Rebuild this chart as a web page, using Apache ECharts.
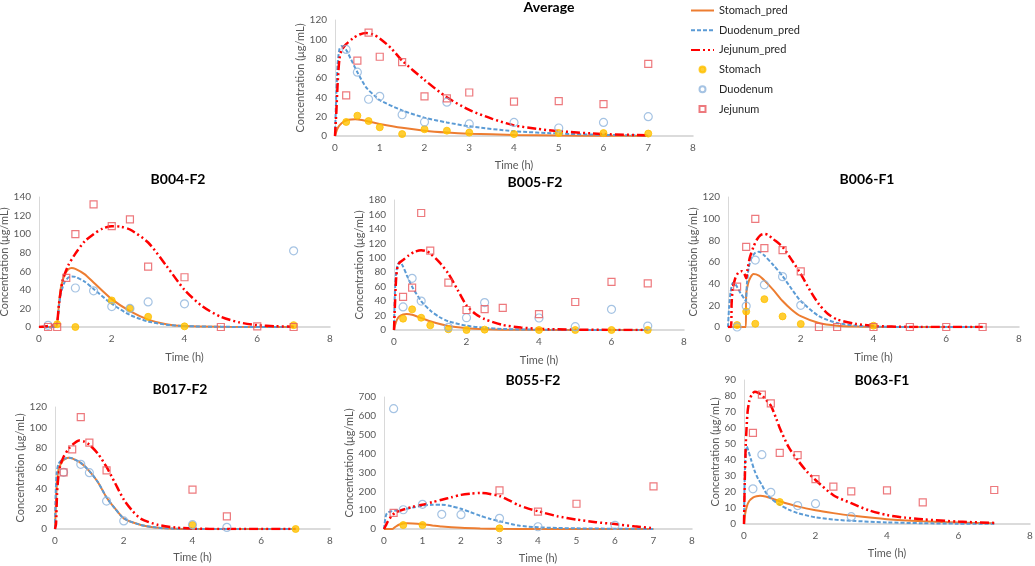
<!DOCTYPE html>
<html><head><meta charset="utf-8">
<script src="https://cdn.jsdelivr.net/npm/echarts@6/dist/echarts.min.js"></script>
<style>html,body{margin:0;padding:0;background:#fff}#c{width:1035px;height:566px}</style>
</head><body><div id="c"></div><script>
// ---------- DATA ----------
const panelTitles = ['Average','B004-F2','B005-F2','B006-F1','B017-F2','B055-F2','B063-F1'];
const seriesNames = ['Stomach_pred','Duodenum_pred','Jejunum_pred','Stomach','Duodenum','Jejunum'];
const yMax  = [120,140,180,120,120,700,90];
const yStep = [20,20,20,20,20,100,10];
const xMax  = [8,8,8,8,8,8,8];
const xStep = [1,2,2,2,2,1,2];

// Average
const avgStomachPred = [[0,0],[0.05,7],[0.1,11],[0.2,15],[0.3,16.8],[0.45,17.3],[0.6,16.5],[0.8,14.5],[1,12.5],[1.5,8.5],[2,5.5],[2.5,3.6],[3,2.4],[4,1.1],[5,0.5],[6,0.2],[7,0.1]];
const avgDuodenumPred = [[0,0],[0.03,45],[0.06,75],[0.1,90],[0.15,93],[0.25,89],[0.35,80],[0.5,66],[0.7,50],[0.9,41],[1,37],[1.5,26.5],[2,19],[2.5,14],[3,10],[4,5],[5,2.5],[6,1.2],[7,0.5]];
const avgJejunumPred = [[0,0],[0.03,25],[0.06,55],[0.1,80],[0.15,89],[0.25,95],[0.4,101],[0.55,105],[0.7,106.5],[0.85,105],[1,101],[1.25,91],[1.5,78],[2,58],[2.5,40],[3,27],[3.5,18],[4,11],[4.5,7.5],[5,5],[6,2],[7,0.7]];
const avgStomachObs = [[0.25,14.5],[0.5,21],[0.75,15.5],[1,9],[1.5,2],[2,7],[2.5,5.5],[3,3.5],[4,2],[5,3],[6,3],[7,2.5]];
const avgDuodenumObs = [[0.25,89.6],[0.5,66],[0.75,38],[1,41],[1.5,22],[2,14.5],[2.5,35],[3,12.5],[4,14],[5,8.3],[6,14],[7,20]];
const avgJejunumObs = [[0.25,42],[0.5,78],[0.75,107],[1,82],[1.5,76.5],[2,41],[2.5,39],[3,45],[4,35.6],[5,36],[6,33],[7,74.7]];

// B004-F2
const b004StomachPred = [[0,0],[0.45,0],[0.5,4],[0.55,25],[0.6,42],[0.7,56],[0.8,62],[0.9,63.5],[1,62.5],[1.25,57],[1.5,48],[2,30],[2.5,17],[3,8],[3.5,3],[4,1],[5,0.2],[7,0]];
const b004DuodenumPred = [[0,0],[0.45,0],[0.5,4],[0.55,22],[0.6,36],[0.7,48],[0.8,53],[0.9,54.5],[1,54],[1.25,49],[1.5,41],[2,25],[2.5,13],[3,6],[3.5,2.5],[4,1],[5,0.2],[7,0]];
const b004JejunumPred = [[0,0],[0.25,1],[0.45,2.5],[0.5,5],[0.55,25],[0.65,50],[0.8,66],[1,79],[1.25,92],[1.5,100],[1.75,106],[2,108.5],[2.25,108],[2.5,105],[3,91],[3.5,66],[4,40],[4.5,22],[5,11],[5.5,5],[6,2],[6.5,0.8],[7,0.3]];
const b004StomachObs = [[0.5,3],[1,0],[2,28.6],[2.5,20],[3,11],[4,0.7],[7,2]];
const b004DuodenumObs = [[0.25,1.8],[1,42],[1.5,39],[2,22],[2.5,20],[3,27],[4,25],[7,82]];
const b004JejunumObs = [[0.25,0],[0.5,0],[0.75,53],[1,100],[1.5,132],[2,108.6],[2.5,116],[3,65],[4,53.6],[5,0],[6,0.7],[7,0]];

// B005-F2
const b005StomachPred = [[0,0],[0.03,7],[0.08,14],[0.15,19],[0.25,21.5],[0.35,22],[0.5,21],[0.75,16.5],[1,12],[1.5,5.5],[2,2.5],[2.5,1],[3,0.4],[4,0.1],[7,0]];
const b005DuodenumPred = [[0,0],[0.02,45],[0.05,75],[0.1,90],[0.16,94.5],[0.25,88],[0.35,76],[0.5,60],[0.75,40],[1,27],[1.25,18],[1.5,12],[2,6],[2.5,3],[3,1.4],[4,0.4],[5,0.1],[7,0]];
const b005JejunumPred = [[0,0],[0.03,40],[0.06,72],[0.1,88],[0.15,93],[0.25,97],[0.4,103],[0.55,108],[0.75,110.5],[0.9,109],[1,106],[1.25,94],[1.5,78],[1.75,56],[2,34],[2.25,22],[2.5,15],[3,7],[3.5,3.5],[4,1.5],[5,0.5],[6,0.1],[7,0]];
const b005StomachObs = [[0.25,15.7],[0.5,28.6],[0.75,17],[1,6.5],[1.5,1],[2,0],[2.5,0.5],[4,0],[5,0],[6,0],[7,0]];
const b005DuodenumObs = [[0.25,32],[0.5,71.5],[0.75,40],[1.5,3.7],[2,17],[2.5,38],[4,16.6],[5,4.6],[6,28.6],[7,5.5]];
const b005JejunumObs = [[0.25,46],[0.5,58.6],[0.75,162],[1,110],[1.5,65.5],[2,27.7],[2.5,29],[3,30.5],[4,22],[5,38.8],[6,66.5],[7,64.6]];

// B006-F1
const b006StomachPred = [[0,0],[0.49,0],[0.5,30],[0.55,40],[0.62,46],[0.7,49],[0.85,47.5],[1,43],[1.25,34],[1.5,24],[1.75,16],[2,10],[2.5,3.7],[3,1.2],[3.5,0.4],[4,0.1],[7,0]];
const b006DuodenumPred = [[0,0],[0.03,18],[0.07,32],[0.12,40],[0.16,41],[0.25,37],[0.35,31],[0.45,26],[0.49,24],[0.52,40],[0.57,55],[0.65,64],[0.75,68.5],[0.85,69.5],[1,66],[1.25,57],[1.5,47],[1.75,35],[2,24],[2.5,10],[3,3.7],[3.5,1.3],[4,0.4],[5,0],[7,0]];
const b006JejunumPred = [[0,0],[0.08,0],[0.1,22],[0.13,35],[0.2,45],[0.28,50],[0.38,51.5],[0.45,49],[0.5,45],[0.53,52],[0.6,64],[0.7,74],[0.8,81],[0.9,85],[1,86],[1.1,85],[1.25,81],[1.5,74],[1.75,62],[2,49],[2.25,34],[2.5,21],[2.75,12],[3,7],[3.5,3],[4,1],[5,0.1],[7,0]];
const b006StomachObs = [[0.25,1.8],[0.5,14.4],[0.75,3],[1,25.7],[1.5,9.8],[2,2.8],[4,1.2]];
const b006DuodenumObs = [[0.25,0],[0.5,19.3],[0.75,61.8],[1,38.9],[1.5,46.5],[2,20]];
const b006JejunumObs = [[0.25,37.3],[0.5,74],[0.75,99.8],[1,72.8],[1.5,71],[2,51.4],[2.5,0],[3,0],[4,0],[5,0],[6,0],[7,0]];

// B017-F2
const b017StomachPred = [[0,0],[0.02,20],[0.05,42],[0.1,58],[0.2,66],[0.3,69],[0.4,70],[0.5,69.5],[0.75,65],[1,57],[1.25,46],[1.5,31],[1.75,20],[2,10.5],[2.5,4],[3,1.2],[3.5,0.3],[4,0.1],[7,0]];
const b017DuodenumPred = [[0,0],[0.02,35],[0.05,55],[0.1,64],[0.2,68],[0.3,69.5],[0.4,70],[0.5,69.5],[0.75,65],[1,57],[1.25,46],[1.5,31],[1.75,20],[2,10.5],[2.5,4],[3,1.2],[3.5,0.3],[4,0.1],[7,0]];
const b017JejunumPred = [[0,0],[0.03,5],[0.06,35],[0.1,52],[0.15,62],[0.25,71],[0.4,79],[0.55,84],[0.7,87],[0.85,86],[1,83],[1.25,74],[1.5,61],[1.75,45],[2,29],[2.25,18],[2.5,10],[3,4],[3.5,1.5],[4,0.4],[5,0],[7,0]];
const b017StomachObs = [[4,3.9],[7,0]];
const b017DuodenumObs = [[0.25,55.7],[0.75,63.6],[1,55.4],[1.5,27.5],[2,7.9],[4,4.3],[5,1.6]];
const b017JejunumObs = [[0.25,55.7],[0.5,78.4],[0.75,110],[1,85],[1.5,57.7],[4,38.7],[5,12.5]];

// B055-F2
const b055StomachPred = [[0,0],[0.22,0],[0.3,12],[0.4,24],[0.5,29],[0.6,30.5],[0.75,29.5],[1,25],[1.25,19],[1.5,13],[2,6],[2.5,2.5],[3,1],[4,0.2],[5,0],[7,0]];
const b055DuodenumPred = [[0,0],[0.03,50],[0.06,78],[0.1,88],[0.2,94],[0.35,99],[0.5,104],[0.75,114],[1,124],[1.25,128],[1.5,129],[1.75,121],[2,107],[2.25,89],[2.5,70],[2.75,54],[3,41],[3.5,18],[4,9],[4.5,5.5],[5,3.5],[6,1.5],[7,0.5]];
const b055JejunumPred = [[0,0],[0.05,20],[0.1,40],[0.2,70],[0.3,88],[0.5,103],[0.75,118],[1,129],[1.25,142],[1.5,155],[1.75,168],[2,181],[2.25,188],[2.5,191],[2.75,186],[3,175],[3.25,152],[3.5,126],[3.75,108],[4,94],[4.5,68],[5,50],[5.5,36],[6,26],[6.5,14],[7,4]];
const b055StomachObs = [[0.5,21],[1,21],[3,3.5]];
const b055DuodenumObs = [[0.25,638],[0.5,102],[1,131],[1.5,78],[2,76],[3,56.6],[4,12],[6,19.4]];
const b055JejunumObs = [[0.25,85],[3,205],[4,92],[5,134],[7,226]];

// B063-F1
const b063StomachPred = [[0,0],[0.03,6],[0.08,11],[0.15,14.5],[0.25,16.5],[0.35,17.3],[0.45,17.6],[0.6,17.2],[0.8,15.8],[1,14.2],[1.5,11],[2,8.6],[2.5,6.8],[3,5.3],[4,3],[5,1.7],[6,0.9],[7,0.5]];
const b063DuodenumPred = [[0,0],[0.02,30],[0.05,45],[0.08,48.5],[0.12,46],[0.2,40],[0.3,33],[0.4,28],[0.5,24.5],[0.6,20],[0.75,16],[1,12],[1.25,9],[1.5,6.8],[2,4.2],[2.5,2.8],[3,2],[4,1],[5,0.5],[6,0.2],[7,0.1]];
const b063JejunumPred = [[0,0],[0.02,25],[0.05,50],[0.1,70],[0.15,77],[0.22,81],[0.3,82.7],[0.4,82],[0.5,80.5],[0.6,78],[0.75,74],[0.9,66],[1,60],[1.25,48],[1.5,40],[1.75,33],[2,27.5],[2.5,18],[3,13],[3.5,8.5],[4,5.6],[4.5,4],[5,2.9],[6,1.5],[7,0.7]];
const b063StomachObs = [[1,13.75]];
const b063DuodenumObs = [[0.25,22],[0.5,43.3],[0.75,19.8],[1.5,11.5],[2,12.7],[3,4.6]];
const b063JejunumObs = [[0.25,57],[0.5,80.8],[0.75,75.4],[1,44.4],[1.5,43],[2,28],[2.5,23.3],[3,20.4],[4,21],[5,13.5],[7,21.25]];

const panelData = [
  [avgStomachPred, avgDuodenumPred, avgJejunumPred, avgStomachObs, avgDuodenumObs, avgJejunumObs],
  [b004StomachPred, b004DuodenumPred, b004JejunumPred, b004StomachObs, b004DuodenumObs, b004JejunumObs],
  [b005StomachPred, b005DuodenumPred, b005JejunumPred, b005StomachObs, b005DuodenumObs, b005JejunumObs],
  [b006StomachPred, b006DuodenumPred, b006JejunumPred, b006StomachObs, b006DuodenumObs, b006JejunumObs],
  [b017StomachPred, b017DuodenumPred, b017JejunumPred, b017StomachObs, b017DuodenumObs, b017JejunumObs],
  [b055StomachPred, b055DuodenumPred, b055JejunumPred, b055StomachObs, b055DuodenumObs, b055JejunumObs],
  [b063StomachPred, b063DuodenumPred, b063JejunumPred, b063StomachObs, b063DuodenumObs, b063JejunumObs]
];

// ---------- LAYOUT / STYLE ----------
const layouts = [
  {left:335, top:20,  width:358, height:116, tx:549, ty:0,   yGap:26, xGap:24},
  {left:39,  top:197, width:291, height:130, tx:178, ty:172, yGap:25, xGap:25},
  {left:394, top:200, width:290, height:130, tx:535, ty:175, yGap:25, xGap:25},
  {left:728, top:197, width:291, height:130, tx:867, ty:172, yGap:25, xGap:25},
  {left:55,  top:407, width:275, height:122, tx:180, ty:382, yGap:25, xGap:23},
  {left:384, top:397, width:308, height:132, tx:533, ty:373, yGap:27, xGap:24},
  {left:744, top:380, width:286, height:144, tx:882, ty:373, yGap:20, xGap:24}
];
const FONT = 'Lato, "Open Sans", sans-serif';
const LBL = '#595959';
const seriesStyles = [
  {type:'line', color:'#ED7D31', lineStyle:{color:'#ED7D31', width:2, type:'solid'}},
  {type:'line', color:'#5B9BD5', lineStyle:{color:'#5B9BD5', width:2, type:[4,2]}},
  {type:'line', color:'#FF0000', lineStyle:{color:'#FF0000', width:2.5, type:[9,3,2,3,2,3]}},
  {type:'scatter', symbol:'circle', symbolSize:7, itemStyle:{color:'#FFC000', borderColor:'#FFC000', borderWidth:1}},
  {type:'scatter', symbol:'circle', symbolSize:8, itemStyle:{color:'rgba(255,255,255,0)', borderColor:'#8FB4DC', borderWidth:1.2}},
  {type:'scatter', symbol:'rect', symbolSize:7, itemStyle:{color:'rgba(255,255,255,0)', borderColor:'#E8585C', borderWidth:1.2}}
];

const grid = [], xAxis = [], yAxis = [], title = [], series = [];
layouts.forEach((L, i) => {
  grid.push({left:L.left, top:L.top, width:L.width, height:L.height, containLabel:false, outerBoundsMode:'none'});
  title.push({text:panelTitles[i], left:L.tx, top:L.ty, textAlign:'center', padding:0,
    textStyle:{fontFamily:FONT, fontSize:14, fontWeight:'bold', color:'#000'}});
  xAxis.push({type:'value', gridIndex:i, min:0, max:xMax[i], interval:xStep[i],
    name:'Time (h)', nameLocation:'middle', nameGap:L.xGap,
    nameTextStyle:{fontFamily:FONT, fontSize:11, color:LBL},
    axisLine:{show:true, lineStyle:{color:'#D0D0D0', width:1.5}}, axisTick:{show:false},
    splitLine:{show:false}, axisLabel:{fontFamily:FONT, fontSize:10, color:LBL, margin:7}});
  yAxis.push({type:'value', gridIndex:i, min:0, max:yMax[i], interval:yStep[i],
    name:'Concentration (μg/mL)', nameLocation:'middle', nameGap:L.yGap, nameRotate:90,
    nameTextStyle:{fontFamily:FONT, fontSize:11, color:LBL},
    axisLine:{show:true, lineStyle:{color:'#D9D9D9', width:1}}, axisTick:{show:false},
    splitLine:{show:false}, axisLabel:{fontFamily:FONT, fontSize:10, color:LBL, margin:8}});
  seriesNames.forEach((nm, k) => {
    const st = seriesStyles[k];
    const s = {name:nm, type:st.type, xAxisIndex:i, yAxisIndex:i, data:panelData[i][k], silent:true, animation:false};
    if (st.type === 'line') {
      Object.assign(s, {symbol:'none', showSymbol:false, smooth:0.25, lineStyle:st.lineStyle,
        itemStyle:{color:st.color}, z:2});
    } else {
      Object.assign(s, {symbol:st.symbol, symbolSize:st.symbolSize, itemStyle:st.itemStyle, z:3});
    }
    series.push(s);
  });
});

const hiddenSym = {opacity:0, color:'rgba(0,0,0,0)', borderWidth:0};
const chart = echarts.init(document.getElementById('c'), null, {renderer:'canvas'});
chart.setOption({
  backgroundColor:'#fff',
  animation:false,
  title, grid, xAxis, yAxis, series,
  legend:{
    orient:'vertical', left:685, top:0, itemWidth:23, itemHeight:6, itemGap:8.7,
    textStyle:{fontFamily:FONT, fontSize:11, color:'#262626'},
    data:[
      {name:'Stomach_pred', itemStyle:hiddenSym},
      {name:'Duodenum_pred', itemStyle:hiddenSym},
      {name:'Jejunum_pred', itemStyle:hiddenSym},
      {name:'Stomach'},{name:'Duodenum'},{name:'Jejunum', icon:'path://M0,0H10V10H0Z'}
    ]
  }
});
</script></body></html>
